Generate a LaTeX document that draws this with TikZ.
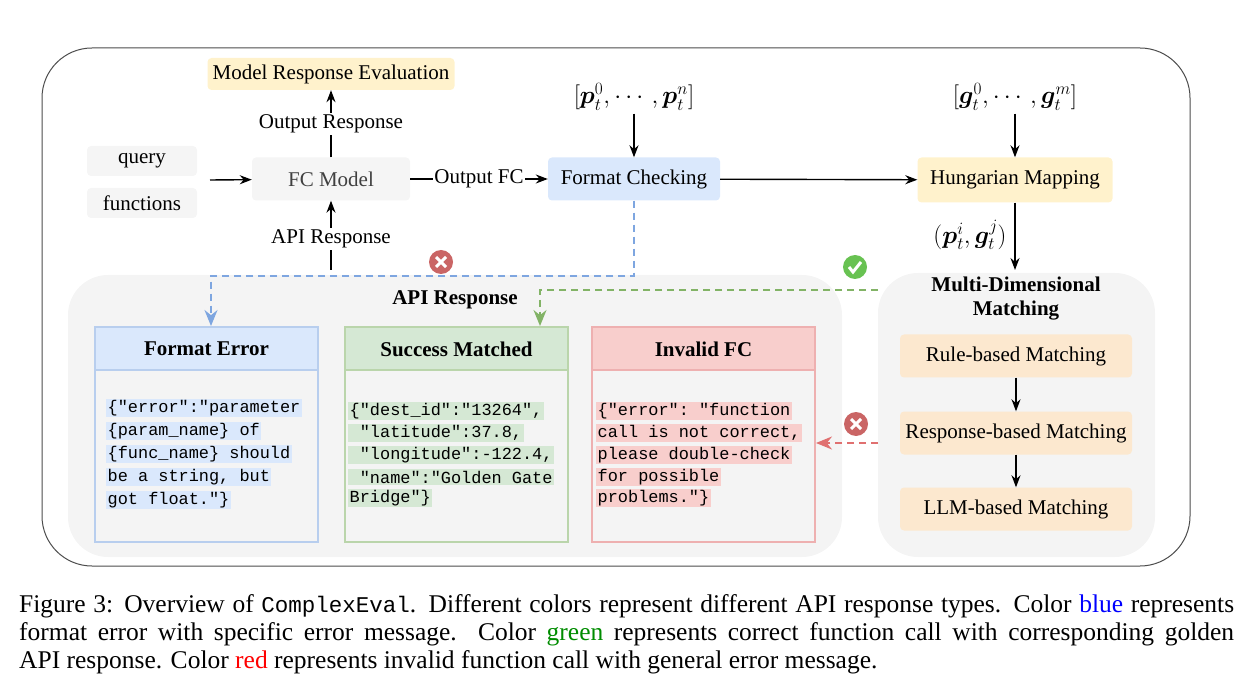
\documentclass[tikz,border=0pt]{standalone}
\usepackage{amsmath,bm}
\usepackage{fontspec}
\setmainfont{Liberation Serif}
\setmonofont{Liberation Mono}
\usetikzlibrary{arrows.meta}
\definecolor{BlueFill}{HTML}{DAE8FC}
\definecolor{BlueLine}{HTML}{7EA6E0}
\definecolor{GreenFill}{HTML}{D5E8D4}
\definecolor{GreenLine}{HTML}{82B366}
\definecolor{RedFill}{HTML}{F8CECC}
\definecolor{RedLine}{HTML}{E07070}
\definecolor{YellowFill}{HTML}{FFF2CC}
\definecolor{OrangeFill}{HTML}{FCE8CF}
\definecolor{PanelFill}{HTML}{F4F4F4}
\definecolor{NodeFill}{HTML}{F5F5F5}
\tikzset{
    box/.style={rounded corners=4pt, minimum height=43pt, font=\fontsize{21}{24}\selectfont},
    code/.style={anchor=west, inner sep=1.5pt, font=\ttfamily\fontsize{16.9}{19}\selectfont},
    flow/.style={-{Stealth[length=12pt,width=9pt]}, line width=1.4pt},
    dashflow/.style={-{Stealth[length=16pt,width=13pt]}, line width=1.8pt, dash pattern=on 7pt off 5pt},
    header/.style={font=\bfseries\fontsize{21}{24}\selectfont},
    mathlabel/.style={font=\fontsize{25}{27}\selectfont},
}
\newcommand{\crossmark}[2]{%
    \fill[RedLine!90!black] (#1,#2) circle (12);
    \draw[white, line width=3pt] (#1-5,#2-5) -- (#1+5,#2+5) (#1-5,#2+5) -- (#1+5,#2-5);
}
\begin{document}
\begin{tikzpicture}[x=1pt, y=-1pt]
\useasboundingbox (0,0) rectangle (1242,700);

% Rahmen und Flaechen
\draw[rounded corners=50pt, line width=1pt, black!70] (42,48) rectangle (1190,566);
\fill[PanelFill, rounded corners=40pt] (68,275) rectangle (842,557);
\fill[PanelFill, rounded corners=40pt] (878,273) rectangle (1155,557);

% obere Reihe
\node[box, fill=YellowFill, minimum width=247pt, minimum height=32pt] (eval) at (331,74) {Model Response Evaluation};
\node[box, fill=NodeFill, minimum width=110pt, minimum height=30pt] (query) at (142,161) {query};
\node[box, fill=NodeFill, minimum width=110pt, minimum height=30pt] (funcs) at (142,203) {functions};
\node[box, fill=NodeFill, minimum width=158pt, text=black!75] (fc) at (331,179) {FC Model};
\node[box, fill=BlueFill, minimum width=172pt] (check) at (634,179) {Format Checking};
\node[box, fill=YellowFill, minimum width=195pt, minimum height=45pt] (hung) at (1015,180) {Hungarian Mapping};
\node[mathlabel] (preds) at (634,97) {$[\bm{p}_t^0,\cdots,\bm{p}_t^n]$};
\node[mathlabel] (golds) at (1015,97) {$[\bm{g}_t^0,\cdots,\bm{g}_t^m]$};
\node[mathlabel] (pair) at (970,235) {$(\bm{p}_t^i,\bm{g}_t^j)$};
\coordinate (in) at (210,180);
\coordinate (apiin) at (331,270);
\coordinate (multitop) at (1015,270);

\draw[flow] (in) -- (fc);
\draw[flow] (fc) -- node[fill=white, inner sep=2pt, font=\fontsize{21}{24}\selectfont] {Output Response} (eval);
\draw[flow] (apiin) -- node[fill=white, inner sep=2pt, font=\fontsize{21}{24}\selectfont, pos=0.45] {API Response} (fc);
\draw[flow] (fc) -- node[fill=white, inner sep=1pt, font=\fontsize{21}{24}\selectfont] {Output FC} (check);
\draw[flow] (preds) -- (check);
\draw[flow] (golds) -- (hung);
\draw[flow] (check) -- (hung);
\draw[flow] (hung) -- (multitop);

% API Response
\node[header] (apititle) at (455,300) {API Response};
\foreach \name/\x/\fillc/\linec/\title in {ferr/95/BlueFill/BlueLine/Format Error, succ/345/GreenFill/GreenLine/Success Matched, inval/592/RedFill/RedLine/Invalid FC} {
    \draw[\linec!55, line width=1.2pt] (\x,327) rectangle (\x+223,542);
    \draw[\linec!55, line width=1.2pt, fill=\fillc] (\x,327) rectangle (\x+223,370);
    \node[header] (\name) at (\x+111.5,349) {\title};
}
\coordinate (ferrtop) at (211,326);
\coordinate (succtop) at (540,326);
\coordinate (invalside) at (816,443);

\node[code, fill=BlueFill] (b1) at (106,408) {\{"error":"parameter};
\node[code, fill=BlueFill] (b2) at (106,431) {\{param\_name\} of};
\node[code, fill=BlueFill] (b3) at (106,454) {\{func\_name\} should};
\node[code, fill=BlueFill] (b4) at (106,477) {be a string, but};
\node[code, fill=BlueFill] (b5) at (106,500) {got float."\}};

\node[code, fill=GreenFill] (g1) at (348,411) {\{"dest\_id":"13264",};
\node[code, fill=GreenFill] (g2) at (348,433) {\ "latitude":37.8,};
\node[code, fill=GreenFill] (g3) at (348,455) {\ "longitude":-122.4,};
\node[code, fill=GreenFill] (g4) at (348,477) {\ "name":"Golden Gate};
\node[code, fill=GreenFill] (g5) at (348,498) {Bridge"\}};

\node[code, fill=RedFill] (r1) at (596,411) {\{"error": "function};
\node[code, fill=RedFill] (r2) at (596,433) {call is not correct,};
\node[code, fill=RedFill] (r3) at (596,455) {please double-check};
\node[code, fill=RedFill] (r4) at (596,477) {for possible};
\node[code, fill=RedFill] (r5) at (596,498) {problems."\}};

% Multi-Dimensional Matching
\node[header, align=center] (multi) at (1016,299) {Multi-Dimensional\\Matching};
\node[box, fill=OrangeFill, minimum width=232pt] (rule) at (1016,356) {Rule-based Matching};
\node[box, fill=OrangeFill, minimum width=232pt] (resp) at (1016,433) {Response-based Matching};
\node[box, fill=OrangeFill, minimum width=232pt] (llm) at (1016,509) {LLM-based Matching};
\draw[flow] (rule) -- (resp);
\draw[flow] (resp) -- (llm);
\coordinate (multiside) at (878,290);
\coordinate (multiside2) at (878,443);

% gestrichelte Rueckmeldungen
\draw[dashflow, BlueLine] (check.south) |- (211,276) -- (ferrtop);
\draw[dashflow, GreenLine] (multiside) -- (540,290) -- (succtop);
\draw[dashflow, RedLine] (multiside2) -- (invalside);
\crossmark{441}{262}
\crossmark{856}{424}
\fill[GreenLine!80!green] (855,267) circle (12);
\draw[white, line width=3pt] (849,267) -- (853,272) -- (861,262);

% Bildunterschrift
\node[anchor=north west, text width=1215pt, align=justify, inner sep=0pt, font=\fontsize{25.5}{28}\selectfont] (caption) at (19,594)
  {Figure 3: Overview of {\fontsize{22.5}{28}\selectfont\texttt{ComplexEval}}. Different colors represent different API response types. Color \textcolor{blue}{blue} represents\linebreak format error with specific error message. Color \textcolor{green!55!black}{green} represents correct function call with corresponding golden\linebreak API response. Color \textcolor{red}{red} represents invalid function call with general error message.};
\end{tikzpicture}
\end{document}
